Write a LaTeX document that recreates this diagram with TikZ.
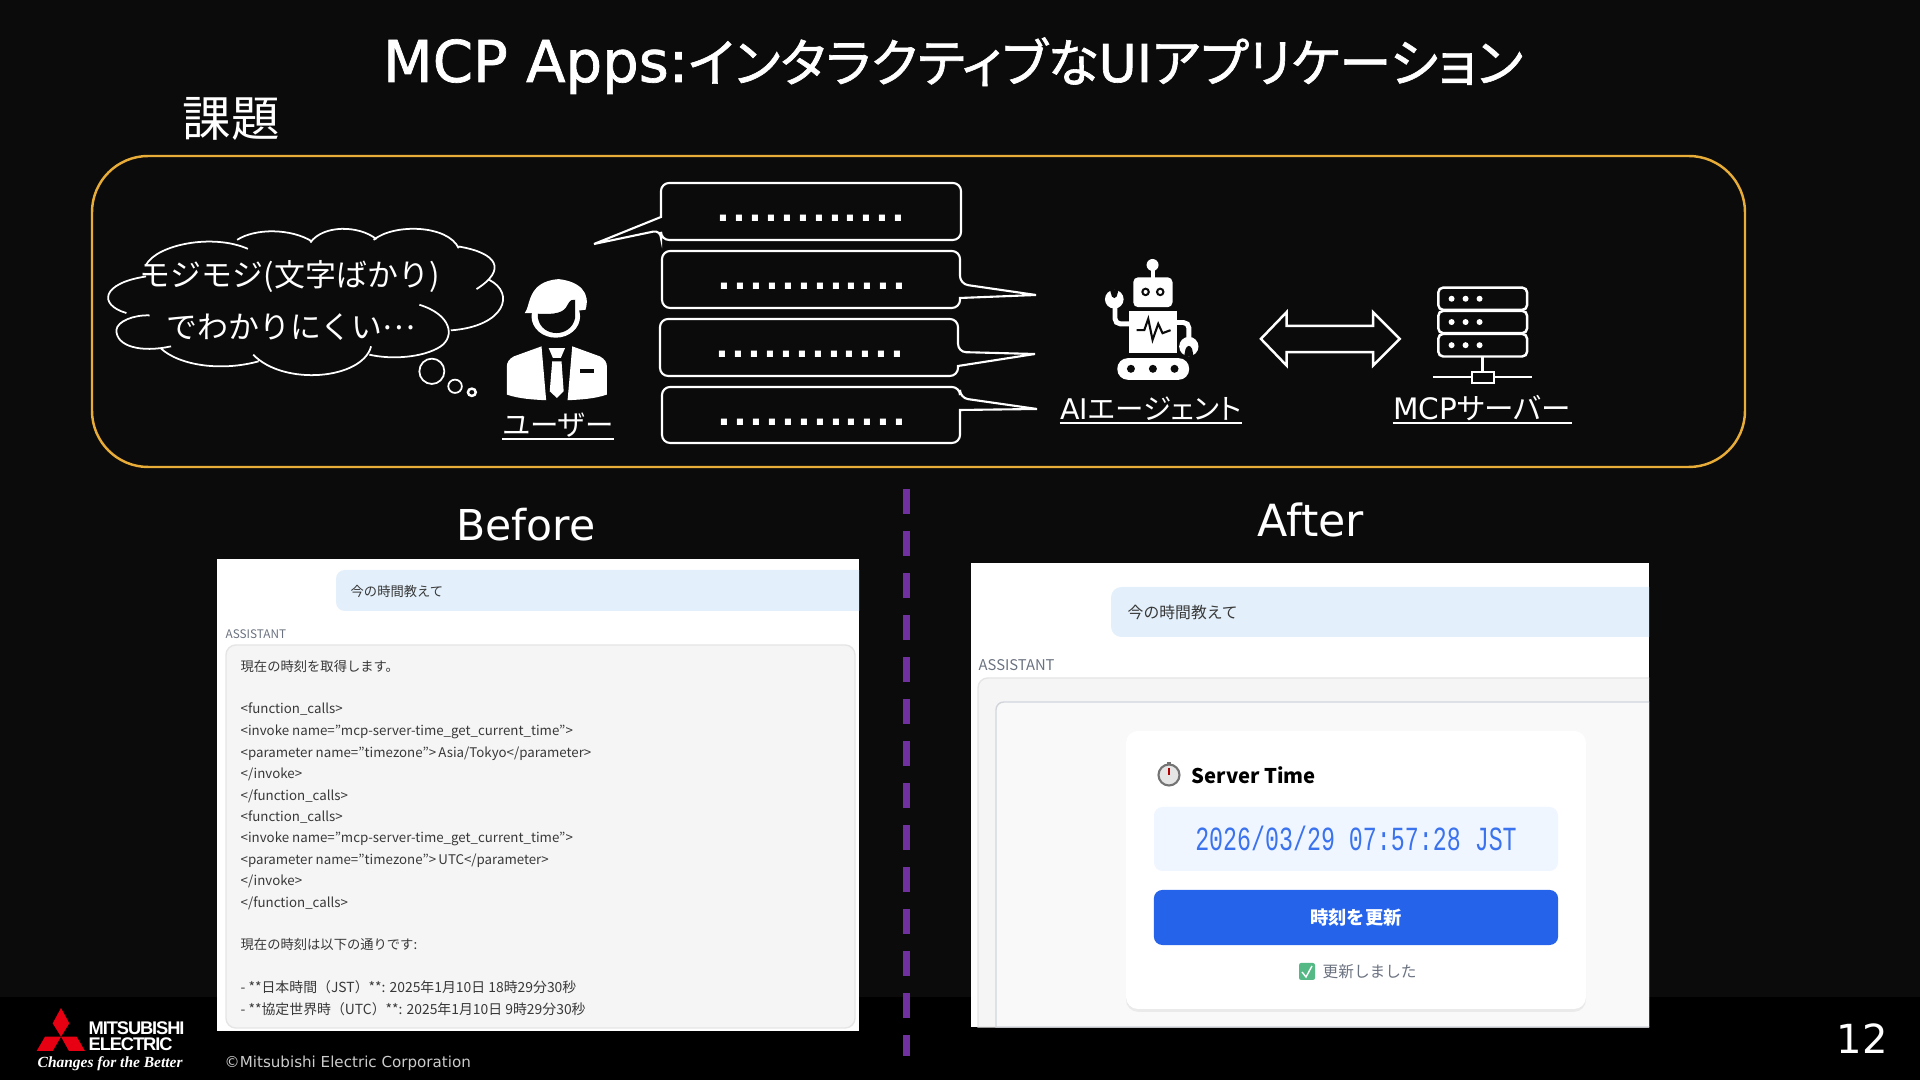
\documentclass[tikz,border=0pt]{standalone}
\usepackage{fontspec}
\setmainfont{Noto Sans CJK JP}
\newfontfamily\paltfont[RawFeature=+palt]{Noto Sans CJK JP}
\newfontfamily\jphead[RawFeature=+palt,FakeBold=1.2]{Noto Sans CJK JP}
\newfontfamily\lathead[FakeBold=1.2]{DejaVu Sans}
\newfontfamily\lat{DejaVu Sans}
\newfontfamily\dotfont[LetterSpace=9.4]{Liberation Sans}
\newfontfamily\clockfont[FakeStretch=0.69]{Liberation Mono}
\newfontfamily\logofont[LetterSpace=-6]{Liberation Sans}
\newfontfamily\sloganfont{Liberation Serif}
\usetikzlibrary{shadows}
\definecolor{pagebg}{HTML}{0B0B0B}
\definecolor{framecol}{HTML}{E8AC38}
\definecolor{dashcol}{HTML}{7030A0}
\definecolor{askfill}{HTML}{E3F0FB}
\definecolor{replyfill}{HTML}{F5F5F5}
\definecolor{replyline}{HTML}{E5E5E5}
\definecolor{innerfill}{HTML}{F9F9F9}
\definecolor{innerline}{HTML}{D1D5DB}
\definecolor{timefill}{HTML}{EFF6FF}
\definecolor{btnblue}{HTML}{2563EB}
\definecolor{mutedgrey}{HTML}{6B7280}
\definecolor{logored}{HTML}{E60012}
\definecolor{checkgreen}{HTML}{55B985}
\tikzset{
  whitetext/.style={text=white,inner sep=0pt},
  headtext/.style={whitetext,font=\fontsize{14.8}{18}\selectfont\jphead},
  sidetext/.style={whitetext,font=\fontsize{12.1}{14}\selectfont\lat},
  cloudtext/.style={whitetext,font=\fontsize{8.8}{10}\selectfont},
  iconlabel/.style={text=white,inner xsep=0pt,inner ysep=0.9pt,text depth=0pt,font=\fontsize{8.1}{10}\selectfont\paltfont},
  underbar/.style={draw=white,line width=0.5pt},
  bubbleline/.style={draw=white,line width=0.6pt,fill=pagebg},
  dotrow/.style={whitetext,font=\fontsize{12.2}{14}\selectfont\dotfont\bfseries},
  cloudline/.style={draw=white,line width=0.5pt},
  chat/.style={anchor=west,inner sep=0pt,text=black!78,font=\fontsize{3.78}{4.5}\selectfont},
}
\begin{document}
\begin{tikzpicture}[x=0.01cm,y=-0.01cm]
  % page
  \useasboundingbox (0,0) rectangle (1920,1080);
  \fill[pagebg] (0,0) rectangle (1920,1080);
  \fill[black] (0,997) rectangle (1920,1080);

  % headings
  \node[headtext,anchor=base] (title) at (953,82) {{\fontsize{16.4}{18}\selectfont\lathead MCP Apps:}インタラクティブな{\lathead UI}アプリケーション};
  \node[whitetext,font=\fontsize{13.8}{16}\selectfont] (issue) at (231,119) {課題};
  \node[sidetext,anchor=base] (before) at (526,541) {Before};
  \node[sidetext,anchor=base,font=\fontsize{12.6}{14}\selectfont\lat] (after) at (1311,537) {After};

  % frame
  \draw[framecol,line width=0.7pt,rounded corners=16pt] (92,156) rectangle (1745,467);

  % thought cloud, user
  \begin{scope}[shift={(80,150)},x=0.0035714cm,y=-0.0033333cm]
    \draw[cloudline] (185,345) .. controls (215,285) and (370,250) .. (470,297)
      (440,270) .. controls (490,235) and (590,235) .. (650,275)
      (645,278) .. controls (680,225) and (780,225) .. (830,268)
      (822,270) .. controls (880,220) and (1030,225) .. (1060,295)
      (1060,290) .. controls (1170,310) and (1195,360) .. (1110,418)
      (1145,390) .. controls (1220,430) and (1190,530) .. (1038,542)
      (950,465) .. controls (1040,495) and (1050,560) .. (1010,590) .. controls (960,625) and (870,630) .. (810,615)
      (815,590) .. controls (790,690) and (570,710) .. (485,615)
      (500,635) .. controls (400,665) and (280,650) .. (225,595)
      (255,590) .. controls (170,610) and (100,590) .. (102,540) .. controls (105,515) and (150,495) .. (195,497)
      (130,490) .. controls (50,465) and (60,400) .. (185,380);
    \draw[cloudline] (985,665) ellipse [x radius=35,y radius=38];
    \draw[cloudline] (1050,710) ellipse [x radius=19,y radius=20];
    \draw[cloudline,line width=0.7pt] (1097,728) ellipse [x radius=11,y radius=11];

    % head
    \fill[white] (1332,500) ellipse [x radius=68,y radius=64];
    \fill[white] (1245,490) .. controls (1262,470) and (1250,395) .. (1340,388) .. controls (1400,395) and (1430,430) .. (1415,480) -- (1340,490) -- cycle;
    \fill[pagebg] (1282,492) .. controls (1330,495) and (1355,490) .. (1365,465) .. controls (1372,450) and (1380,448) .. (1386,450) -- (1386,505) .. controls (1375,565) and (1292,565) .. (1282,505) -- cycle;
    % jacket
    \fill[white] (1292,590) -- (1215,620) .. controls (1200,628) and (1195,640) .. (1195,650) -- (1195,735) .. controls (1230,748) and (1270,750) .. (1305,752) -- cycle;
    \fill[white] (1378,590) -- (1455,620) .. controls (1470,628) and (1475,640) .. (1475,650) -- (1475,735) .. controls (1440,748) and (1400,750) .. (1365,752) -- cycle;
    \fill[pagebg] (1400,658) rectangle (1440,669);
    % tie
    \fill[white] (1312,595) -- (1358,595) -- (1346,625) -- (1324,625) -- cycle;
    \fill[white] (1322,635) -- (1348,635) -- (1354,725) -- (1335,745) -- (1315,725) -- cycle;
  \end{scope}
  \node[cloudtext] (mojitext) at (290,277) {モジモジ(文字ばかり)};
  \node[cloudtext] (hardtext) at (291,327) {でわかりにくい\raisebox{0.28em}{…}};

  % bubbles
  \draw[bubbleline] (700,183) [rounded corners=2.3pt] -- (961,183) -- (961,240) -- (661,240) -- (661,230) [sharp corners] -- (594,244) -- (661,217) [rounded corners=2.3pt] -- (661,183) -- cycle;
  \foreach \xa/\xb/\ya/\yb/\ta/\tx/\ty/\tb in {662/960/251/308/284/1036/295/298,660/958/319/376/352/1035/354/366,662/960/387/443/398/1037/409/410}
    \draw[bubbleline] ({\xa+40},\ya) [rounded corners=2.3pt] -- (\xb,\ya) -- (\xb,\ta) [sharp corners] -- (\tx,\ty) -- (\xb,\tb) [rounded corners=2.3pt] -- (\xb,\yb) -- (\xa,\yb) -- (\xa,\ya) -- cycle;
  \node[dotrow] (dotsa) at (811,218) {............};
  \node[dotrow] (dotsb) at (812,286) {............};
  \node[dotrow] (dotsc) at (810,354) {............};
  \node[dotrow] (dotsd) at (812,422) {............};

  % robot
  \begin{scope}[shift={(1090,250)},x=0.0033333cm,y=-0.0033333cm]
    \fill[white] (188,45) circle (18);
    \fill[white] (182,55) rectangle (194,90);
    \fill[white,rounded corners=1.4pt] (130,82) rectangle (248,172);
    \foreach \ex in {167,211} {
      \fill[pagebg] (\ex,126) circle (13);
      \fill[white] (\ex,126) circle (6);
    }
    \fill[white] (117,183) rectangle (262,310);
    \draw[pagebg,line width=0.6pt] (140,241) -- (163,241) -- (175,207) -- (188,270) -- (205,222) -- (218,250) -- (242,241);
    % arms
    \draw[white,line width=1.4pt,rounded corners=1.5pt] (117,222) -- (75,222) -- (75,160);
    \draw[white,line width=1.4pt,rounded corners=1.5pt] (262,218) -- (297,218) -- (297,275);
    \fill[white] (73,148) circle (28);
    \fill[pagebg] (60,120) -- (86,120) -- (80,140) .. controls (76,146) and (70,146) .. (66,140) -- cycle;
    \fill[white] (297,290) circle (29);
    \fill[pagebg] (283,318) -- (311,318) -- (307,298) .. controls (302,285) and (292,285) .. (287,298) -- cycle;
    % tread
    \fill[white,rounded corners=3pt] (82,325) rectangle (298,390);
    \foreach \wx in {123,189,254}
      \fill[pagebg] (\wx,357) circle (12);
  \end{scope}

  % double arrow, server
  \begin{scope}[shift={(1200,250)},x=0.0033333cm,y=-0.0033333cm]
    \draw[white,line width=0.7pt,miter limit=4] (183,267) -- (260,187) -- (260,228) -- (520,228) -- (520,187) -- (600,267) -- (520,347) -- (520,307) -- (260,307) -- (260,347) -- cycle;
    \foreach \ra/\rb in {113/180,183/250,252/320} {
      \draw[white,line width=0.7pt,rounded corners=1.4pt] (716,\ra) rectangle (983,\rb);
      \foreach \dx in {756,798,840}
        \fill[white] (\dx,{(\ra+\rb)/2}) circle (9);
    }
    \draw[white,line width=0.7pt] (849,320) -- (849,368);
    \draw[white,line width=0.7pt] (700,381) -- (998,381);
    \draw[white,line width=0.7pt,fill=pagebg] (818,367) rectangle (883,400);
  \end{scope}

  % icon labels
  \node[iconlabel,anchor=south] (userlabel) at (558,439) {ユーザー};
  \node[iconlabel,anchor=south] (agentlabel) at (1151,423) {{\lat AI}エージェント};
  \node[iconlabel,anchor=south,font=\fontsize{8.4}{10}\selectfont\paltfont] (serverlabel) at (1482,423) {{\lat MCP}サーバー};
  \foreach \lbl in {userlabel,agentlabel,serverlabel}
    \draw[underbar] (\lbl.south west) -- (\lbl.south east);

  % divider
  \foreach \y in {489,531,573,615,657,699,741,783,825,867,909,951,993,1035}
    \fill[dashcol] (903,\y) rectangle (910,{\y+min(25,1056-\y)});

  % before panel
  \fill[white] (217,559) rectangle (859,1031);
  \fill[askfill] (859,570) [rounded corners=2.5pt] -- (336,570) -- (336,611) [sharp corners] -- (859,611) -- cycle;
  \node[chat] (askb) at (350,591) {今の時間教えて};
  \node[chat,text=mutedgrey,font=\fontsize{3.35}{4}\selectfont] (assistb) at (225,634) {ASSISTANT};
  \draw[replyline,fill=replyfill,rounded corners=2.8pt] (226,645) rectangle (855,1028);
  \foreach \y/\txt [count=\i] in {666/{現在の時刻を取得します。},709.5/{<function\_calls>},731.5/{<invoke name="mcp-server-time\_get\_current\_time">},753.5/{<parameter name="timezone">\,Asia/Tokyo</parameter>},774.5/{</invoke>},796.5/{</function\_calls>},817.5/{<function\_calls>},838.5/{<invoke name="mcp-server-time\_get\_current\_time">},860.5/{<parameter name="timezone">\,UTC</parameter>},881.5/{</invoke>},903.5/{</function\_calls>},944/{現在の時刻は以下の通りです:},987/{{\fontsize{3.95}{4.5}\selectfont - **日本時間（JST）**: 2025年1月10日 18時29分30秒}},1009/{{\fontsize{3.95}{4.5}\selectfont - **協定世界時（UTC）**: 2025年1月10日 9時29分30秒}}}
    \node[chat] (lineb\i) at (240,\y) {\txt};

  % after panel
  \fill[white] (971,563) rectangle (1649,1027);
  \fill[askfill] (1649,587) [rounded corners=3pt] -- (1111,587) -- (1111,637) [sharp corners] -- (1649,637) -- cycle;
  \node[chat,font=\fontsize{4.5}{5.5}\selectfont] (aska) at (1127,613) {今の時間教えて};
  \node[chat,text=mutedgrey,font=\fontsize{4.2}{5}\selectfont] (assista) at (978,665) {ASSISTANT};
  \draw[replyline,fill=replyfill] (1649,678) [rounded corners=2.8pt] -- (978,678) [sharp corners] -- (978,1027) -- (1649,1027);
  \draw[innerline,fill=innerfill] (1649,702) [rounded corners=2.2pt] -- (996,702) [sharp corners] -- (996,1027) -- (1649,1027);
  \fill[white,rounded corners=3.4pt,drop shadow={shadow xshift=0pt,shadow yshift=-0.8pt,opacity=0.12}] (1126,731) rectangle (1586,1009);
  % clock
  \fill[black!55] (1167,762) rectangle (1171,766);
  \draw[black!55,line width=0.6pt,fill=black!10] (1169,775) circle (10.5);
  \draw[red!70!black,line width=0.4pt] (1169,775) -- (1169,768);
  \node[chat,text=black,font=\fontsize{5.75}{7}\selectfont\bfseries] (servertime) at (1191,775) {Server Time};
  \fill[timefill,rounded corners=2.4pt] (1154,807) rectangle (1558,871);
  \node[inner sep=0pt,text=btnblue!90!white,font=\fontsize{9.6}{11}\selectfont\clockfont] (clocktext) at (1356,838) {2026/03/29 07:57:28 JST};
  \node[inner sep=0pt,fill=btnblue,rounded corners=2.4pt,minimum width=4.04cm,minimum height=0.55cm,text=white,font=\fontsize{5.2}{6.5}\selectfont\bfseries] (refresh) at (1356,917.5) {時刻を更新};
  \fill[checkgreen,rounded corners=0.6pt] (1299,963) rectangle (1315,980);
  \draw[white,line width=0.4pt] (1302,972) -- (1306,977) -- (1312,966);
  \node[chat,text=mutedgrey,font=\fontsize{4.45}{5.5}\selectfont] (updated) at (1322,972) {更新しました};

  % logo
  \fill[logored] (61,1008) -- (69.3,1023.3) -- (61,1036.7) -- (52.7,1023.3) -- cycle;
  \fill[logored] (36.7,1051) -- (45,1036.7) -- (61,1036.7) -- (52.7,1051) -- cycle;
  \fill[logored] (61,1036.7) -- (76.7,1036.7) -- (85,1051) -- (69,1051) -- cycle;
  \node[anchor=west,inner sep=0pt,text=white,font=\fontsize{5.2}{6}\selectfont\logofont\bfseries] (logoa) at (88,1028.5) {MITSUBISHI};
  \node[anchor=west,inner sep=0pt,text=white,font=\fontsize{5.2}{6}\selectfont\logofont\bfseries] (logob) at (88,1044.5) {ELECTRIC};
  \node[anchor=west,inner sep=0pt,text=white,font=\fontsize{4.4}{5}\selectfont\sloganfont\bfseries\itshape] (slogan) at (37,1064) {Changes for the Better};
  \node[anchor=west,inner sep=0pt,text=black!20,font=\fontsize{4.3}{5}\selectfont\lat] (copyright) at (224,1063) {©Mitsubishi Electric Corporation};

  % page number
  \node[whitetext,font=\fontsize{11.4}{14}\selectfont\lat] (pagenum) at (1862,1039) {12};
\end{tikzpicture}
\end{document}
